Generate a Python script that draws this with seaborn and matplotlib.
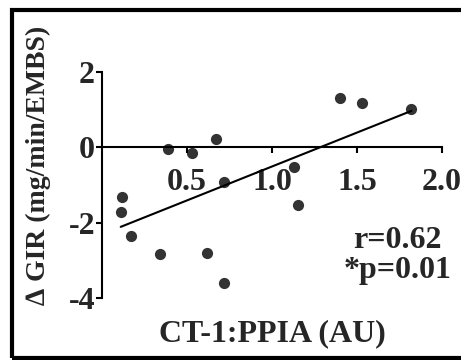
import numpy as np
import pandas as pd
import matplotlib
matplotlib.use('Agg')
import matplotlib.pyplot as plt
import seaborn as sns
from matplotlib.patches import Rectangle

# values
ct1_ppia = [0.12, 0.11, 0.17, 0.34, 0.39, 0.53, 0.67, 0.72, 0.62, 0.72, 1.13, 1.15, 1.40, 1.53, 1.82]
delta_gir = [-1.33, -1.71, -2.35, -2.83, -0.05, -0.16, 0.21, -0.91, -2.80, -3.60, -0.53, -1.52, 1.31, 1.17, 1.01]
x_ticks = [0.5, 1.0, 1.5, 2.0]
y_ticks = [-4, -2, 0, 2]

df = pd.DataFrame({'ratio': ct1_ppia, 'gir': delta_gir})

sns.set_style('ticks')
plt.rcParams['font.family'] = ['Liberation Serif', 'DejaVu Serif']
plt.rcParams['font.weight'] = 'bold'

fig = plt.figure(figsize=(4.61, 3.6), dpi=100)
ax = fig.add_axes([0.2213, 0.1722, 0.7375, 0.628])

sns.regplot(data=df, x='ratio', y='gir', ci=None, truncate=True, ax=ax,
            scatter_kws={'s': 65, 'color': 'black', 'linewidths': 0},
            line_kws={'color': 'black', 'lw': 1.5})

ax.set_xlim(0, 2.0)
ax.set_ylim(-4, 2)
ax.set_xticks(x_ticks)
ax.set_yticks(y_ticks)
ax.set_xticklabels(['0.5', '1.0', '1.5', '2.0'])
ax.set_yticklabels(['-4', '-2', '0', '2'])

sns.despine(ax=ax)
ax.spines['bottom'].set_position(('data', 0))
for s in ['left', 'bottom']:
    ax.spines[s].set_linewidth(1.5)
    ax.spines[s].set_color('black')
ax.tick_params(axis='both', width=1.5, length=4, labelsize=23, color='black')
ax.tick_params(axis='x', pad=11)
ax.tick_params(axis='y', pad=1)
for lab in ax.get_xticklabels() + ax.get_yticklabels():
    lab.set_fontweight('bold')

ax.set_xlabel('')
ax.set_ylabel('')
fig.text(0.59, 0.073, 'CT-1:PPIA (AU)', ha='center', va='center',
         fontsize=23, fontweight='bold')
fig.text(0.083, 0.542, '\u2206 GIR (mg/min/EMBS)', ha='center', va='center',
         rotation=90, fontsize=20, fontweight='bold')
fig.text(0.862, 0.29, 'r=0.62\n*p=0.01', ha='center', va='center',
         fontsize=23, fontweight='bold', linespacing=1.05)

fig.patches.append(Rectangle((0.026, 0.006), 1.2, 0.966, transform=fig.transFigure,
                             fill=False, edgecolor='black', linewidth=3))

fig.savefig('out.png', dpi=100)
